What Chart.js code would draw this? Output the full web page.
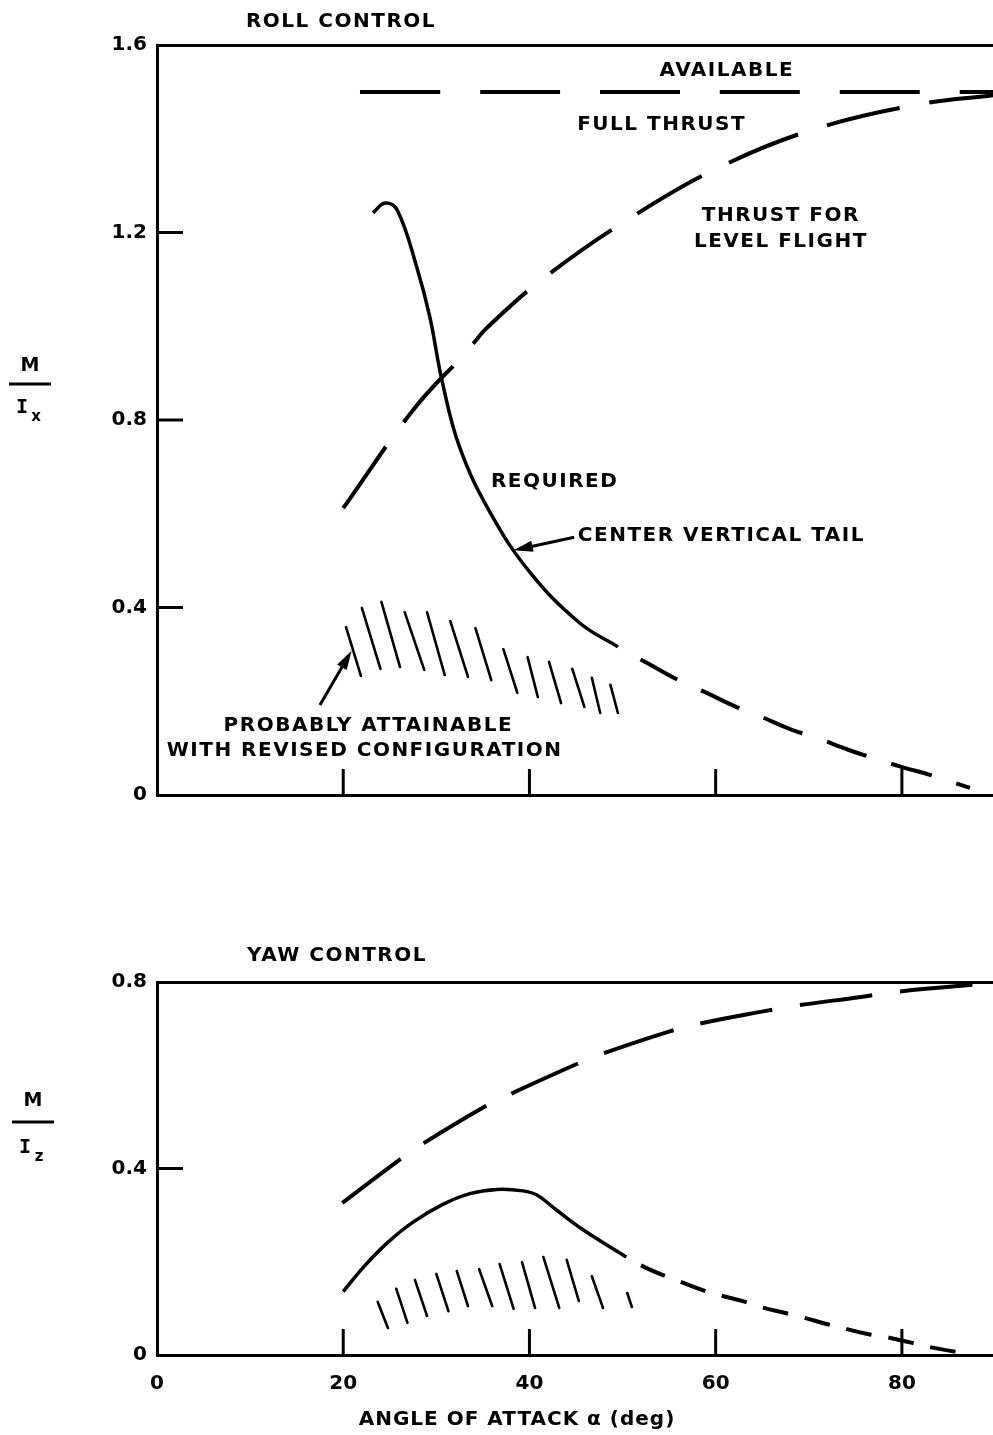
<!DOCTYPE html>
<html>
<head>
<meta charset="utf-8">
<script src="https://cdn.jsdelivr.net/npm/chart.js@4.4.1/dist/chart.umd.min.js"></script>
<style>
html,body{margin:0;padding:0;background:#fff;overflow:hidden;width:993px;height:1435px;}
#wrap1{position:absolute;left:0;top:0;}
#wrap2{position:absolute;left:0;top:900px;}
</style>
</head>
<body>
<div id="wrap1"><canvas id="canvas1" width="1000" height="830"></canvas></div>
<div id="wrap2"><canvas id="canvas2" width="1000" height="535"></canvas></div>
<script>
// ---- roll control (upper panel) ----
var rollAvailA = [21.8, 90];
var rollAvail = [1.5, 1.5];
var rollLevelA = [20, 27.7, 33.4, 35.4, 41.7, 51.0, 60.7, 70.7, 81.4, 89.8];
var rollLevel = [0.612, 0.826, 0.949, 0.996, 1.105, 1.233, 1.342, 1.421, 1.472, 1.493];
var rollReqA = [23.2, 24.5, 25.8, 27.9, 29.3, 30.6, 32.5, 35.8, 40.1, 45.4, 49.5];
var rollReq = [1.242, 1.263, 1.248, 1.126, 1.02, 0.885, 0.742, 0.602, 0.474, 0.367, 0.316];
var rollReqDashA = [49.5, 52.6, 56.4, 58.8, 62.2, 64.4, 68.2, 70.6, 74.3, 76.9, 80.3, 83, 87.3];
var rollReqDash = [0.316, 0.282, 0.241, 0.22, 0.188, 0.171, 0.139, 0.124, 0.096, 0.079, 0.058, 0.043, 0.015];
var rollHatchTopA = [20.3, 22.0, 24.1, 26.6, 29.0, 31.5, 34.2, 37.2, 39.8, 42.1, 44.6, 46.7, 48.7];
var rollHatchTop = [0.358, 0.399, 0.412, 0.390, 0.390, 0.371, 0.356, 0.311, 0.294, 0.284, 0.269, 0.250, 0.235];
var rollHatchBotA = [21.9, 24.0, 26.1, 28.7, 30.9, 33.4, 35.9, 38.7, 40.9, 43.4, 45.9, 47.6, 49.5];
var rollHatchBot = [0.254, 0.269, 0.273, 0.267, 0.256, 0.252, 0.245, 0.218, 0.209, 0.196, 0.188, 0.175, 0.175];

// ---- yaw control (lower panel) ----
var yawAvailA = [23.5, 90];
var yawAvail = [0.8, 0.8];
var yawLevelA = [19.9, 26.0, 28.7, 35.5, 38.2, 45.3, 48.1, 54.9, 58.6, 65.4, 68.5, 75.6, 79.4, 89.8];
var yawLevel = [0.326, 0.418, 0.455, 0.536, 0.562, 0.626, 0.648, 0.693, 0.712, 0.738, 0.749, 0.768, 0.779, 0.798];
var yawReqA = [20.0, 22.2, 24.7, 27.5, 30.7, 33.6, 36.5, 39.3, 40.8, 42.9, 45.8, 50.4];
var yawReq = [0.136, 0.189, 0.240, 0.285, 0.323, 0.346, 0.355, 0.352, 0.343, 0.311, 0.268, 0.210];
var yawReqDashA = [50.4, 52.2, 54.6, 56.2, 58.6, 60.3, 63.2, 64.8, 67.5, 69.3, 72, 73.6, 76.3, 78.2, 81.1, 83, 86];
var yawReqDash = [0.21, 0.19, 0.169, 0.157, 0.139, 0.129, 0.114, 0.103, 0.090, 0.081, 0.066, 0.058, 0.045, 0.039, 0.026, 0.017, 0.006];
var yawHatchTopA = [23.7, 25.7, 27.7, 30.0, 32.2, 34.6, 36.8, 39.2, 41.5, 44.0, 46.7, 50.5];
var yawHatchTop = [0.114, 0.142, 0.161, 0.174, 0.180, 0.184, 0.195, 0.199, 0.210, 0.204, 0.169, 0.133];
var yawHatchBotA = [24.8, 26.9, 29.0, 31.3, 33.4, 36.0, 38.3, 40.6, 43.2, 45.3, 47.9, 51.0];
var yawHatchBot = [0.058, 0.069, 0.084, 0.094, 0.105, 0.105, 0.099, 0.101, 0.101, 0.116, 0.101, 0.103];

var xTicks = [0, 20, 40, 60, 80];

function pts(xs, ys) {
  var out = [];
  for (var i = 0; i < xs.length; i++) out.push({x: xs[i], y: ys[i]});
  return out;
}

function lineSet(xs, ys, dash, width, offset) {
  return {
    data: pts(xs, ys), borderColor: '#000', borderWidth: width,
    borderDash: dash || [], borderDashOffset: offset || 0,
    pointRadius: 0, tension: 0.4,
    fill: false, borderCapStyle: 'butt'
  };
}

function hatchSet(ta, tv, ba, bv) {
  var d = [];
  for (var i = 0; i < ta.length; i++) {
    d.push({x: ta[i], y: tv[i]});
    d.push({x: ba[i], y: bv[i]});
    d.push({x: ba[i], y: null});
  }
  return {data: d, borderColor: '#000', borderWidth: 2.6, pointRadius: 0, tension: 0, spanGaps: false, borderCapStyle: 'round'};
}

var FONT = '"DejaVu Sans"';

// labels, inward ticks, arrows and the M/I fraction
var notesPlugin = {
  id: 'notes',
  afterDraw: function(chart, args, opts) {
    var ctx = chart.ctx;
    var xs = chart.scales.x, ys = chart.scales.y;
    ctx.save();
    ctx.fillStyle = '#000';
    ctx.strokeStyle = '#000';
    ctx.lineCap = 'butt';

    // inward tick marks
    ctx.lineWidth = 3;
    xs.ticks.forEach(function(t) {
      if (t.value <= xs.min || t.value >= xs.max) return;
      var px = xs.getPixelForValue(t.value);
      ctx.beginPath(); ctx.moveTo(px, ys.bottom); ctx.lineTo(px, ys.bottom - opts.tickLen); ctx.stroke();
    });
    ys.ticks.forEach(function(t) {
      if (t.value <= ys.min || t.value >= ys.max) return;
      var py = ys.getPixelForValue(t.value);
      ctx.beginPath(); ctx.moveTo(xs.left, py); ctx.lineTo(xs.left + opts.tickLen, py); ctx.stroke();
    });

    // texts in data coordinates
    ctx.font = 'bold 20px ' + FONT;
    ctx.letterSpacing = '1.5px';
    ctx.textBaseline = 'middle';
    (opts.texts || []).forEach(function(t) {
      ctx.textAlign = t.align || 'center';
      ctx.fillText(t.text, xs.getPixelForValue(t.x), ys.getPixelForValue(t.y));
    });

    // arrows
    (opts.arrows || []).forEach(function(a) {
      var x1 = xs.getPixelForValue(a.from[0]), y1 = ys.getPixelForValue(a.from[1]);
      var x2 = xs.getPixelForValue(a.to[0]), y2 = ys.getPixelForValue(a.to[1]);
      var ang = Math.atan2(y2 - y1, x2 - x1);
      ctx.lineWidth = 3;
      ctx.beginPath(); ctx.moveTo(x1, y1);
      ctx.lineTo(x2 - 10 * Math.cos(ang), y2 - 10 * Math.sin(ang)); ctx.stroke();
      ctx.beginPath(); ctx.moveTo(x2, y2);
      ctx.lineTo(x2 - 20 * Math.cos(ang - 0.28), y2 - 20 * Math.sin(ang - 0.28));
      ctx.lineTo(x2 - 20 * Math.cos(ang + 0.28), y2 - 20 * Math.sin(ang + 0.28));
      ctx.closePath(); ctx.fill();
    });

    // panel title and axis title (canvas pixels)
    (opts.titles || []).forEach(function(t) {
      ctx.font = 'bold 20px ' + FONT;
      ctx.letterSpacing = t.spacing + 'px';
      ctx.textAlign = 'center';
      ctx.fillText(t.text, t.px, t.py);
    });

    // M / I fraction
    var f = opts.frac;
    ctx.letterSpacing = '0px';
    ctx.textAlign = 'center';
    ctx.font = 'bold 19px ' + FONT;
    ctx.fillText('M', f.cx, f.yM);
    ctx.lineWidth = 3;
    ctx.beginPath(); ctx.moveTo(f.cx - 21, f.yBar); ctx.lineTo(f.cx + 21, f.yBar); ctx.stroke();
    ctx.font = 'bold 20px "DejaVu Sans Mono"';
    ctx.fillText('I', f.cx - 8, f.yI);
    ctx.font = 'bold 15px ' + FONT;
    ctx.fillText(f.sub, f.cx + 6, f.yI + 9);
    ctx.restore();
  }
};

function makeChart(id, datasets, yMax, topH, bottomH, showX, notes) {
  return new Chart(document.getElementById(id), {
    type: 'line',
    data: {datasets: datasets},
    plugins: [notesPlugin],
    options: {
      responsive: false,
      animation: false,
      layout: {padding: {left: 0, right: 5, top: 0, bottom: 0}},
      plugins: {legend: {display: false}, tooltip: {enabled: false}, notes: notes},
      scales: {
        x: {
          type: 'linear', min: 0, max: 90, position: 'bottom',
          afterBuildTicks: function(s) {
            s.ticks = xTicks.map(function(v) { return {value: v}; });
          },
          ticks: {display: showX, color: '#000', padding: 17, font: {family: 'DejaVu Sans', weight: 'bold', size: 20}},
          grid: {display: false, drawTicks: false},
          border: {display: true, color: '#000', width: 3},
          afterFit: function(s) { s.height = bottomH; }
        },
        xTop: {
          type: 'linear', min: 0, max: 90, position: 'top',
          ticks: {display: false},
          grid: {display: false, drawTicks: false},
          border: {display: true, color: '#000', width: 3},
          afterFit: function(s) { s.height = topH; }
        },
        y: {
          type: 'linear', min: 0, max: yMax,
          ticks: {
            stepSize: 0.4, color: '#000', padding: 10,
            font: {family: 'DejaVu Sans', weight: 'bold', size: 20},
            callback: function(v) { return v === 0 ? '0' : v.toFixed(1); }
          },
          grid: {display: false, drawTicks: false},
          border: {display: true, color: '#000', width: 3},
          afterFit: function(s) { s.width = 157; }
        }
      }
    }
  });
}

makeChart('canvas1', [
  lineSet(rollAvailA, rollAvail, [80, 40], 4),
  lineSet(rollLevelA, rollLevel, [75, 30], 4),
  lineSet(rollReqA, rollReq, [], 3.5),
  lineSet(rollReqDashA, rollReqDash, [42, 26], 4, 42),
  hatchSet(rollHatchTopA, rollHatchTop, rollHatchBotA, rollHatchBot)
], 1.6, 45, 35, false, {
  tickLen: 26,
  texts: [
    {text: 'AVAILABLE', x: 61.2, y: 1.545},
    {text: 'FULL THRUST', x: 54.2, y: 1.429},
    {text: 'THRUST FOR', x: 67.0, y: 1.235},
    {text: 'LEVEL FLIGHT', x: 67.0, y: 1.18},
    {text: 'REQUIRED', x: 42.7, y: 0.668},
    {text: 'CENTER VERTICAL TAIL', x: 45.2, y: 0.553, align: 'left'},
    {text: 'PROBABLY ATTAINABLE', x: 22.7, y: 0.147},
    {text: 'WITH REVISED CONFIGURATION', x: 22.3, y: 0.094}
  ],
  arrows: [
    {from: [44.8, 0.55], to: [38.3, 0.522]},
    {from: [17.5, 0.192], to: [20.9, 0.308]}
  ],
  titles: [{text: 'ROLL CONTROL', px: 341, py: 22, spacing: 1.5}],
  frac: {cx: 30, yM: 366, yBar: 384, yI: 408, sub: 'x'}
});

makeChart('canvas2', [
  lineSet(yawAvailA, yawAvail, [80, 30], 4),
  lineSet(yawLevelA, yawLevel, [73, 28], 4),
  lineSet(yawReqA, yawReq, [], 3.5),
  lineSet(yawReqDashA, yawReqDash, [26, 17], 4, 26),
  hatchSet(yawHatchTopA, yawHatchTop, yawHatchBotA, yawHatchBot)
], 0.8, 82, 80, true, {
  tickLen: 26,
  texts: [],
  arrows: [],
  titles: [
    {text: 'YAW CONTROL', px: 337, py: 56, spacing: 1.5},
    {text: 'ANGLE OF ATTACK \u03b1 (deg)', px: 517, py: 520, spacing: 1}
  ],
  frac: {cx: 33, yM: 201, yBar: 222, yI: 248, sub: 'z'}
});
</script>
</body>
</html>
